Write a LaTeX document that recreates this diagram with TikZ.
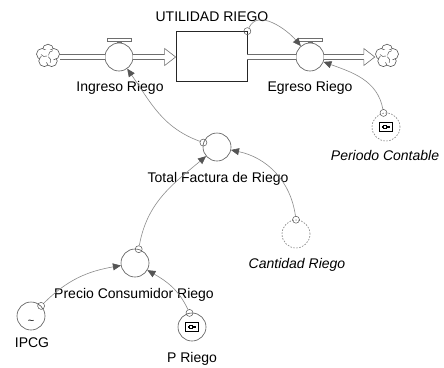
\documentclass[tikz,border=0pt]{standalone}
\usepackage{fontspec}
\setmainfont{Liberation Sans}
\usetikzlibrary{arrows.meta}
\definecolor{edgegray}{HTML}{555555}
\definecolor{linkgray}{HTML}{8C8C8C}
\definecolor{pipegray}{HTML}{6E6E6E}
\begin{document}
\begin{tikzpicture}[x=1pt,y=1pt,
  every node/.style={font=\fontsize{14}{16}\selectfont},
  varbox/.style={circle,draw=edgegray,line width=0.6pt,minimum size=28pt,inner sep=0pt},
  ghostbox/.style={circle,draw=gray,line width=0.6pt,dash pattern=on 1.6pt off 1.4pt,minimum size=28pt,inner sep=0pt},
  stockbox/.style={rectangle,draw=black!85,line width=0.7pt,minimum width=71pt,minimum height=50pt,inner sep=0pt},
  cloudspot/.style={circle,minimum size=24pt,inner sep=0pt},
  origin/.style={circle,draw=edgegray,line width=0.5pt,minimum size=7pt,inner sep=0pt},
  link/.style={draw=linkgray,line width=0.6pt,-{Triangle[length=8pt,width=7pt,color=edgegray]}},
  pipe/.style={draw=pipegray,line width=0.6pt,double=white,double distance=4.2pt},
  label/.style={anchor=base,inner sep=0pt},
  flowhead/.pic={
    \fill[white] (-11,8.5) -- (0,0) -- (-11,-8.5) -- cycle;
    \draw[pipegray,line width=0.6pt,line join=miter] (-11,2.6) -- (-11,8.5) -- (0,0) -- (-11,-8.5) -- (-11,-2.6);
  },
  valvecap/.pic={
    \draw[pipegray,line width=0.5pt] (-12,1.5) rectangle (12,4.5);
    \draw[pipegray,line width=0.5pt] (-2,0) rectangle (2,1.5);
  },
  slidermark/.pic={
    \draw[black,line width=1.1pt] (-6.5,-4.2) rectangle (6.5,4.2);
    \draw[black,line width=1.4pt] (-4,0) -- (4,0);
    \filldraw[fill=white,draw=black,line width=0.5pt] (-2.6,-1.7) rectangle (0.6,1.7);
  },
  cloudmark/.pic={
    \foreach \a in {90,162,234,306,18}
      \filldraw[fill=white,draw=edgegray,line width=0.6pt] (\a:6.2) circle (5.6);
    \fill[white] (0,0) circle (6.6);
    \foreach \a in {30,150,270}
      \draw[edgegray,line width=0.5pt,rotate=\a] (0.8,0.4) to[bend left=45] (6.8,2.2);
  }
]
\fill[white] (0,-367) rectangle (444,0);
\useasboundingbox (0,-367) rectangle (444,0);

% stock, sources and flow valves
\node[stockbox] (stock) at (211.5,-56.5) {};
\node[varbox] (ingreso) at (119,-57) {};
\node[varbox] (egreso) at (310,-57) {};
\node[cloudspot] (cloudL) at (48,-56) {};
\node[cloudspot] (cloudR) at (387,-56) {};
\pic at (cloudL) {cloudmark};
\pic at (cloudR) {cloudmark};
\pic at (ingreso.north) {valvecap};
\pic at (egreso.north) {valvecap};

% flow pipes
\draw[pipe] (cloudL.east |- ingreso.west) -- (ingreso.west);
\draw[pipe] (ingreso.east) -- ([xshift=-11pt]stock.west |- ingreso.east);
\pic at (stock.west |- ingreso.east) {flowhead};
\draw[pipe] (stock.east |- egreso.west) -- (egreso.west);
\draw[pipe] (egreso.east) -- ([xshift=-11pt]cloudR.west |- egreso.east);
\pic at (cloudR.west |- egreso.east) {flowhead};

% auxiliaries and constants
\node[varbox] (total) at (217,-147) {};
\node[ghostbox] (cantidad) at (296,-234) {};
\node[ghostbox] (periodo) at (386,-127) {};
\node[varbox] (precio) at (135,-263) {};
\node[varbox] (ipcg) at (31,-316) {};
\node[varbox] (priego) at (192,-327) {};
\pic at (periodo) {slidermark};
\pic at (priego) {slidermark};
\node[inner sep=0pt,font=\fontsize{11}{11}\selectfont] at (31,-322) {\textasciitilde};

% labels
\node[label] at (212,-21) {UTILIDAD RIEGO};
\node[label] at (120,-91) {Ingreso Riego};
\node[label] at (310,-91) {Egreso Riego};
\node[label] at (385,-160) {\itshape Periodo Contable};
\node[label] at (218,-182) {Total Factura de Riego};
\node[label] at (297,-268) {\itshape Cantidad Riego};
\node[label] at (134,-298) {Precio Consumidor Riego};
\node[label] at (32,-347) {IPCG};
\node[label] at (192,-362) {P Riego};

% connector origins
\node[origin] (o-stock) at (stock.north east) {};
\node[origin] (o-periodo) at (periodo.100) {};
\node[origin] (o-total) at (total.162) {};
\node[origin] (o-precio) at (precio.75) {};
\node[origin] (o-cantidad) at (cantidad.90) {};
\node[origin] (o-ipcg) at (ipcg.45) {};
\node[origin] (o-priego) at (priego.100) {};

% information links
\draw[link] (o-stock) to[out=65,in=130] (egreso);
\draw[link] (o-periodo) to[out=100,in=-20] (egreso);
\draw[link] (o-total) to[out=160,in=-55] (ingreso);
\draw[link] (o-precio) to[out=80,in=-140] (total);
\draw[link] (o-cantidad) to[out=98,in=-12] (total);
\draw[link] (o-ipcg) to[out=45,in=190] (precio);
\draw[link] (o-priego) to[out=115,in=-30] (precio);
\end{tikzpicture}
\end{document}
